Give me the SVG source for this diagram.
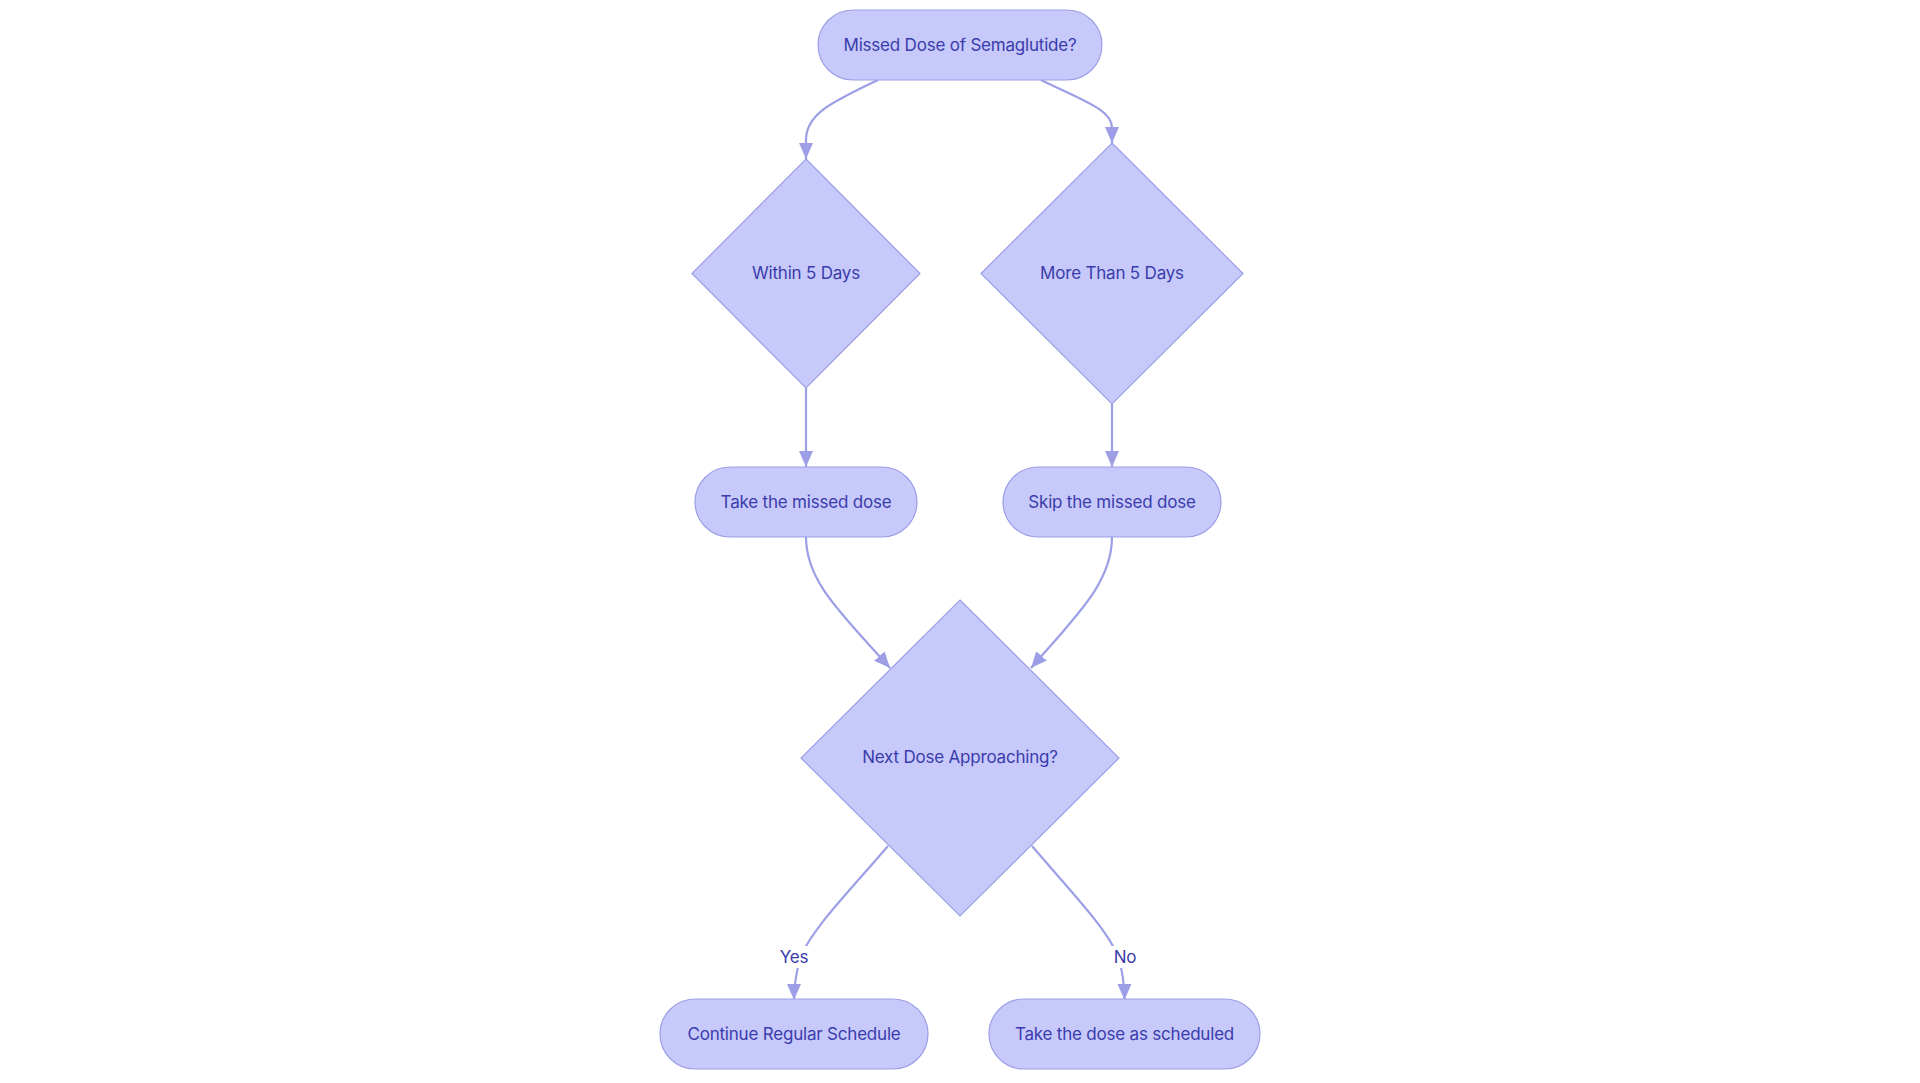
<svg xmlns="http://www.w3.org/2000/svg" width="1920" height="1083" viewBox="0 0 1920 1083">
<style>
.node{fill:#c7c9fb;stroke:#9c9fe6;stroke-width:1.2}
.lbl{font-family:Inter,"Noto Sans","Liberation Sans",sans-serif;font-size:17px;fill:#3a3cab;text-anchor:middle;letter-spacing:-0.2px}
.edge{fill:none;stroke:#9c9fe6;stroke-width:2.2}
.elbl{font-family:Inter,"Noto Sans","Liberation Sans",sans-serif;font-size:17px;fill:#3a3cab;text-anchor:middle;letter-spacing:-0.2px}
</style>
<defs>
<marker id="arr" viewBox="0 0 16 14" refX="16" refY="7" markerWidth="16" markerHeight="14" markerUnits="userSpaceOnUse" orient="auto">
<path d="M0,0 L16,7 L0,14 z" fill="#9c9fe6"/>
</marker>
</defs>
<rect width="1920" height="1083" fill="#ffffff"/>
<g id="edges">
<path class="edge" d="M878,80 C832,102 806,114 806,140 L806,159" marker-end="url(#arr)"/>
<path class="edge" d="M1041,80 C1086,102 1112,110 1112,128 L1112,143" marker-end="url(#arr)"/>
<path class="edge" d="M806,388 L806,467" marker-end="url(#arr)"/>
<path class="edge" d="M1112,404 L1112,467" marker-end="url(#arr)"/>
<path class="edge" d="M806,537 C806,582 842,614 890,668" marker-end="url(#arr)"/>
<path class="edge" d="M1112,537 C1112,582 1078,614 1031,668" marker-end="url(#arr)"/>
<path class="edge" d="M888,846 C846,895 813,928 801,956 C796,972 794,984 794,1000" marker-end="url(#arr)"/>
<path class="edge" d="M1032,846 C1074,895 1106,928 1118,956 C1123,972 1124.5,984 1124.5,1000" marker-end="url(#arr)"/>
<rect x="777" y="946" width="34" height="22" fill="#ffffff"/>
<rect x="1110" y="946" width="30" height="22" fill="#ffffff"/>
<text class="elbl" x="794" y="963">Yes</text>
<text class="elbl" x="1125" y="963">No</text>
</g>
<g id="n-missed">
<rect class="node" x="818" y="10" width="284" height="70" rx="35" ry="35"/>
<text class="lbl" x="960" y="51">Missed Dose of Semaglutide?</text>
</g>
<g id="n-within">
<polygon class="node" points="806,159 920,273.5 806,388 692,273.5"/>
<text class="lbl" x="806" y="279">Within 5 Days</text>
</g>
<g id="n-more">
<polygon class="node" points="1112,143 1243,273.5 1112,404 981,273.5"/>
<text class="lbl" x="1112" y="279">More Than 5 Days</text>
</g>
<g id="n-take">
<rect class="node" x="695" y="467" width="222" height="70" rx="35" ry="35"/>
<text class="lbl" x="806" y="508">Take the missed dose</text>
</g>
<g id="n-skip">
<rect class="node" x="1003" y="467" width="218" height="70" rx="35" ry="35"/>
<text class="lbl" x="1112" y="508">Skip the missed dose</text>
</g>
<g id="n-next">
<polygon class="node" points="960,600 1119,758 960,916 801,758"/>
<text class="lbl" x="960" y="763">Next Dose Approaching?</text>
</g>
<g id="n-continue">
<rect class="node" x="660" y="999" width="268" height="70" rx="35" ry="35"/>
<text class="lbl" x="794" y="1040">Continue Regular Schedule</text>
</g>
<g id="n-scheduled">
<rect class="node" x="989" y="999" width="271" height="70" rx="35" ry="35"/>
<text class="lbl" x="1124.5" y="1040">Take the dose as scheduled</text>
</g>
</svg>
